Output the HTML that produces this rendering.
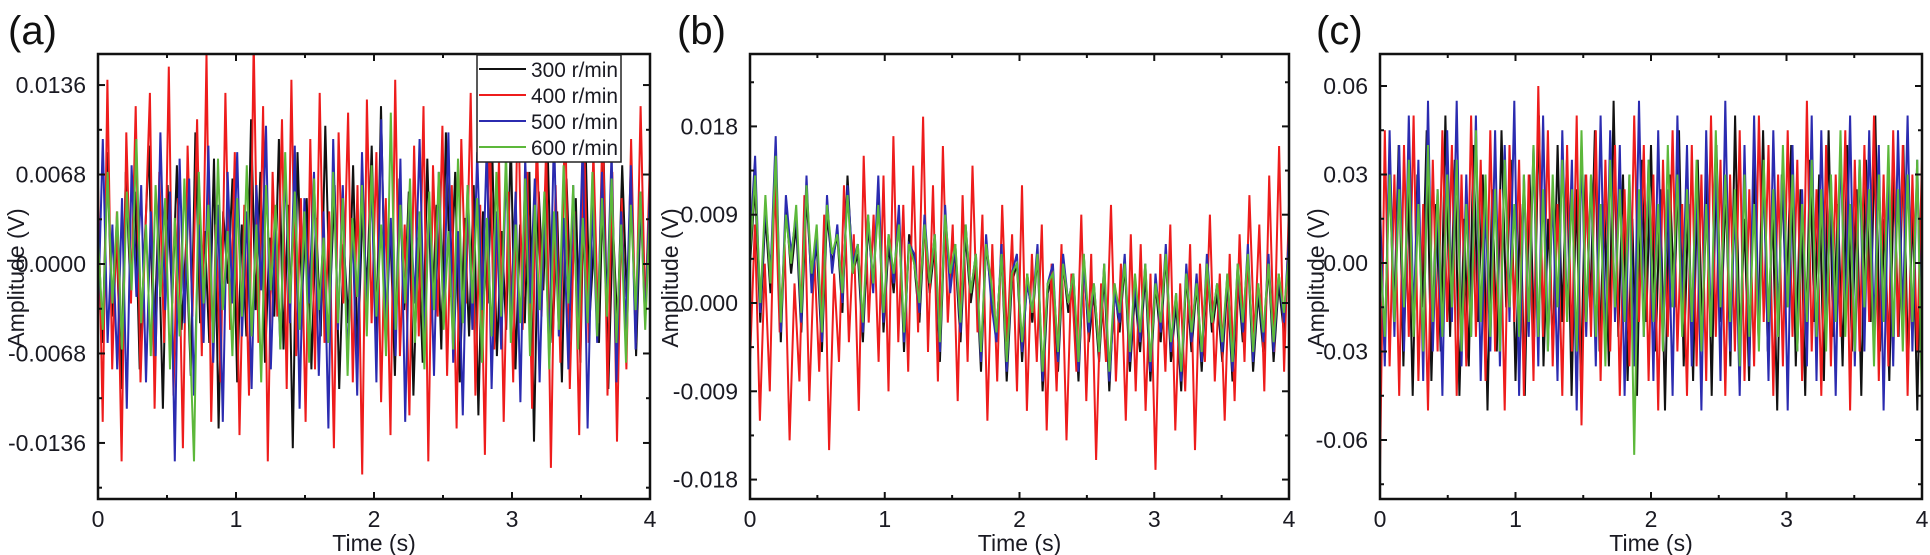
<!DOCTYPE html>
<html><head><meta charset="utf-8"><style>
html,body{margin:0;padding:0;background:#fff;}
svg{display:block;font-family:"Liberation Sans",Arial,sans-serif;}
</style></head><body>
<svg id="fig" width="1930" height="555" viewBox="0 0 1930 555" xmlns="http://www.w3.org/2000/svg"></svg>
<script>
// ---- data (panel a, units 1e-4 V) ----
const aBlack=[30,-60,85,-40,20,-95,70,-20,55,-80,10,90,-70,35,-110,60,-30,75,-50,15,-85,100,-45,25,-60,80,-125,40,-15,65,-90,30,-55,110,-35,70,-75,20,-40,95,-65,45,-140,85,-25,50,-80,35,-55,105,-30,60,-95,15,-45,75,-70,40,-20,90,-60,120,-50,30,-85,65,-35,55,-100,20,-75,80,-40,45,-65,100,-25,70,-90,35,-55,60,-115,40,-30,85,-70,25,-50,95,-80,30,-45,70,-135,55,-20,80,-60,40,-90,65,-35,50,-75,105,-40,20,-60,85,-95,30,-50,75,-25,60,-70,45,-30,55];
const aRed=[60,-120,140,-80,40,-150,100,-30,120,-90,20,130,-110,70,-60,150,-100,50,-140,90,-40,110,-70,160,-120,30,-90,130,-50,85,-130,45,-100,170,-60,120,-150,70,-40,110,-95,140,-70,50,-120,95,-80,130,-60,40,-140,100,-30,115,-90,60,-160,125,-45,85,-105,50,-130,140,-70,30,-115,90,-55,120,-150,75,-40,105,-85,60,-125,95,-30,130,-100,45,-145,110,-65,80,-120,55,-90,135,-50,70,-110,100,-40,90,-155,60,-75,120,-95,40,-130,105,-60,85,-45,115,-100,70,-135,50,-80,95,-60,120,-40,80];
const aBlue=[-40,95,-60,30,-80,50,-110,75,-25,60,-90,40,-70,100,-35,55,-150,80,-45,65,-100,30,-60,90,-75,45,-120,70,-30,85,-55,40,-95,60,-20,105,-80,35,-65,75,-45,90,-110,50,-30,70,-85,40,-125,95,-50,60,-75,30,-100,85,-40,65,-90,110,-55,35,-70,80,-120,45,-30,95,-60,50,-85,70,-40,100,-75,25,-115,60,-50,85,-35,90,-95,40,-65,75,-45,55,-105,80,-30,65,-90,45,-70,100,-55,35,-80,60,-40,95,-125,50,-60,70,-35,85,-90,40,-50,75,-65,55,-45,60];
const aGreen=[20,-50,70,-30,40,-65,55,-20,95,-45,30,-70,60,-25,50,-80,35,-55,65,-40,-150,70,-30,45,-60,80,-35,25,-70,50,-40,75,-55,30,-90,60,-20,45,-65,85,-30,55,-50,40,-75,65,-35,20,-60,70,-45,50,-85,35,-25,60,-55,75,-40,30,-70,115,-50,45,-30,65,-60,40,-80,55,-35,70,-50,25,-65,80,-45,60,-30,50,-75,35,-55,70,-40,85,-60,30,-45,65,-70,45,-35,55,-80,40,-50,75,-30,60,-65,35,-45,70,-55,50,-40,65,-60,30,-75,45,-35,55,-50,40];
// ---- panel b, units 1e-4 V ----
const bBlack=[40,120,-20,90,10,140,-40,100,30,80,-30,110,20,60,-50,90,40,70,-10,130,30,50,-40,80,20,110,-30,60,10,90,-50,70,40,-20,80,10,60,-60,90,20,50,-40,70,0,40,-70,60,10,-30,50,-80,20,40,-60,30,-20,50,-90,10,30,-70,40,-10,20,-80,50,-40,10,-60,30,-90,20,-30,40,-70,10,-50,30,-80,20,-40,50,-60,0,-90,30,-50,20,-70,40,-30,10,-60,20,-80,30,-40,50,-70,10,-50,40,-60,20,-30,60];
const bRed=[-60,80,-120,40,-90,130,-30,60,-140,20,-80,110,-100,50,-70,90,-150,30,-60,120,-40,70,-110,150,-20,90,-60,130,-90,170,-40,100,-70,140,-30,190,-50,120,-80,160,-20,80,-100,110,-60,140,-30,90,-120,60,-80,100,-40,70,-90,120,-110,50,-60,80,-130,40,-90,60,-140,30,-70,90,-100,50,-160,20,-60,100,-80,40,-120,70,-90,60,-110,30,-170,50,-70,80,-130,20,-90,60,-150,40,-60,90,-80,30,-120,50,-100,70,-60,110,-40,80,-90,130,-50,160,-70,100];
const bBlue=[60,150,-10,100,30,170,-30,110,50,90,-20,130,10,70,-40,110,30,80,0,120,40,60,-30,90,10,130,-20,70,20,100,-40,60,50,-10,90,20,70,-50,100,10,60,-30,80,10,50,-60,70,0,-40,60,-70,30,50,-50,20,-10,60,-80,20,40,-60,50,0,30,-70,40,-30,20,-50,40,-80,10,-20,50,-60,20,-40,40,-70,30,-30,60,-50,10,-80,40,-40,30,-60,50,-20,20,-50,30,-70,40,-30,60,-60,20,-40,50,-50,30,-20,70];
const bGreen=[50,130,0,110,20,150,-20,90,40,100,-10,120,30,80,-30,100,50,70,10,110,30,60,-20,90,20,100,-10,70,30,80,-30,60,40,0,80,20,70,-40,90,30,60,-20,80,10,50,-50,60,20,-30,50,-60,30,40,-40,30,-10,50,-70,20,30,-50,40,0,30,-60,50,-20,20,-50,40,-70,20,-10,40,-50,30,-30,40,-60,20,-20,50,-40,10,-70,30,-30,20,-50,40,-20,20,-40,30,-60,40,-20,50,-50,20,-30,40,-40,30,-10,50];
// ---- panel c, units 1e-3 V ----
const cBlack=[10,-30,35,-20,40,-35,25,-45,30,-15,45,-40,20,-30,50,-25,35,-45,15,-35,40,-20,30,-50,25,-30,45,-15,35,-40,20,-45,30,-25,50,-35,15,-30,40,-20,35,-45,25,-40,30,-15,45,-30,20,-35,55,-25,30,-40,15,-45,35,-20,40,-30,25,-50,30,-15,45,-35,20,-40,35,-25,30,-45,40,-20,25,-35,50,-30,15,-40,35,-25,45,-30,20,-50,30,-15,40,-35,25,-45,35,-20,30,-40,45,-25,20,-35,40,-30,25,-45,35,-20,50,-30,15,-40,30,-25,40,-35,20,-50,30];
const cRed=[-70,45,-35,30,-45,40,-25,50,-40,20,-50,35,-30,45,-20,40,-45,30,-35,50,-25,35,-40,45,-30,25,-50,40,-20,35,-45,30,-40,60,-25,45,-35,20,-45,40,-30,50,-55,30,-25,45,-40,35,-30,40,-45,25,-35,50,-20,40,-40,30,-50,35,-25,45,-30,20,-45,40,-35,30,-40,50,-25,35,-45,30,-30,45,-40,25,-35,50,-20,40,-45,30,-35,45,-25,35,-40,55,-30,25,-45,40,-35,30,-25,45,-50,35,-30,40,-20,50,-40,30,-35,45,-25,40,-45,30,-30,35];
const cBlue=[20,-35,45,-25,40,-30,50,-20,35,-40,55,-30,25,-45,45,-20,55,-35,30,-25,50,-40,20,-30,45,-35,40,-20,55,-45,30,-25,40,-35,50,-30,25,-40,45,-20,35,-50,40,-25,30,-35,50,-30,45,-20,40,-45,30,-35,55,-25,35,-40,45,-30,25,-45,50,-20,40,-35,30,-50,45,-25,35,-40,55,-30,20,-45,40,-35,50,-25,30,-40,45,-20,35,-50,40,-30,25,-35,50,-40,45,-25,30,-45,40,-20,50,-35,35,-30,45,-25,40,-50,30,-35,45,-20,50,-30,35,-40];
const cGreen=[5,-25,30,-20,25,-15,35,-25,20,-30,40,-20,25,-25,30,-15,35,-30,20,-25,45,-20,30,-25,25,-30,35,-15,20,-25,30,-20,40,-25,25,-30,30,-15,35,-20,25,-30,45,-20,30,-25,20,-35,35,-15,25,-20,30,-65,25,-25,35,-20,20,-30,40,-15,30,-25,25,-20,35,-30,20,-25,45,-15,30,-20,25,-35,30,-25,20,-30,35,-20,25,-25,40,-15,30,-30,20,-20,35,-25,25,-30,30,-20,45,-25,20,-30,35,-15,25,-35,30,-20,40,-25,25,-30,30,-20,35,-50];
const seriesNames=["300 r/min","400 r/min","500 r/min","600 r/min"];
const seriesColors=["#111111","#ee1c1c","#2b2bb0","#5cb83a"];
const aTicks=[0.0136,0.0068,0,-0.0068,-0.0136];
const aTickLabels=["0.0136","0.0068","0.0000","-0.0068","-0.0136"];
const bTicks=[0.018,0.009,0,-0.009,-0.018];
const bTickLabels=["0.018","0.009","0.000","-0.009","-0.018"];
const cTicks=[0.06,0.03,0,-0.03,-0.06];
const cTickLabels=["0.06","0.03","0.00","-0.03","-0.06"];
const xTicks=[0,1,2,3,4];
const xTickLabels=["0","1","2","3","4"];

const NS="http://www.w3.org/2000/svg";
const svg=document.getElementById('fig');
function mk(tag,attrs,parent){const e=document.createElementNS(NS,tag);for(const k in attrs)e.setAttribute(k,attrs[k]);(parent||svg).appendChild(e);return e;}

const panels=[
 {id:'a',label:'(a)',x0:98,x1:650,y0:54,y1:499,ymin:-0.01786,ymax:0.01596,unit:1e-4,data:[aBlack,aRed,aBlue,aGreen],ticks:aTicks,tl:aTickLabels,labX:8,titleX:16,legend:true},
 {id:'b',label:'(b)',x0:750,x1:1289,y0:54,y1:499,ymin:-0.01998,ymax:0.02538,unit:1e-4,data:[bBlack,bRed,bBlue,bGreen],ticks:bTicks,tl:bTickLabels,labX:677,titleX:670,legend:false},
 {id:'c',label:'(c)',x0:1380,x1:1922,y0:54,y1:499,ymin:-0.0800,ymax:0.07085,unit:1e-3,data:[cBlack,cRed,cBlue,cGreen],ticks:cTicks,tl:cTickLabels,labX:1316,titleX:1316,legend:false}
];

panels.forEach(p=>{
 const g=mk('g',{});
 
 
 const xs=v=>p.x0+(v/4)*(p.x1-p.x0);
 const ys=v=>p.y1-(v-p.ymin)/(p.ymax-p.ymin)*(p.y1-p.y0);
 const lab=mk('text',{x:p.labX,y:44,'font-size':40,fill:'#111'},g);
 lab.textContent=p.label;
 
 
 const cp=mk('clipPath',{id:'clip'+p.id},g);
 mk('rect',{x:p.x0,y:p.y0,width:p.x1-p.x0,height:p.y1-p.y0},cp);
 const sg=mk('g',{'clip-path':'url(#clip'+p.id+')'},g);
 p.data.forEach((arr,si)=>{
  const n=arr.length;
  const pts=arr.map((v,i)=>xs(4*i/(n-1)).toFixed(1)+','+ys(v*p.unit).toFixed(1)).join(' ');
  const pl=mk('polyline',{points:pts,fill:'none',stroke:seriesColors[si],'stroke-width':2,'stroke-linejoin':'miter'},sg);
  
  
 });
 const fr=mk('rect',{x:p.x0,y:p.y0,width:p.x1-p.x0,height:p.y1-p.y0,fill:'none',stroke:'#111','stroke-width':2.5},g);
 
 
 for(let k=0;k<=8;k++){
  const v=k/2,x=xs(v),L=(k%2===0)?7:4;
  mk('line',{x1:x,x2:x,y1:p.y1,y2:p.y1-L,stroke:'#111','stroke-width':2},g);
  mk('line',{x1:x,x2:x,y1:p.y0,y2:p.y0+L,stroke:'#111','stroke-width':2},g);
 }
 xTicks.forEach((v,i)=>{
  const t=mk('text',{x:xs(v),y:p.y1+28,'font-size':23,'text-anchor':'middle',fill:'#1a1a22'},g);
  t.textContent=xTickLabels[i];
  
  
 });
 const xt=mk('text',{x:(p.x0+p.x1)/2,y:p.y1+52,'font-size':23,'text-anchor':'middle',fill:'#1a1a22'},g);
 xt.textContent='Time (s)';
 
 
 const step=p.ticks[0]-p.ticks[1];
 for(let k=-6;k<=6;k++){
  const v=k*step/2; if(v<p.ymin||v>p.ymax) continue;
  const y=ys(v),L=(k%2===0)?7:4;
  mk('line',{x1:p.x0,x2:p.x0+L,y1:y,y2:y,stroke:'#111','stroke-width':2},g);
  mk('line',{x1:p.x1,x2:p.x1-L,y1:y,y2:y,stroke:'#111','stroke-width':2},g);
 }
 p.ticks.forEach((v,i)=>{
  const t=mk('text',{x:p.x0-12,y:ys(v)+8,'font-size':23,'text-anchor':'end',fill:'#1a1a22'},g);
  t.textContent=p.tl[i];
  
  
 });
 const yt=mk('text',{x:0,y:0,'font-size':23,'text-anchor':'middle',fill:'#1a1a22',transform:'translate('+(p.titleX+8)+',278) rotate(-90)'},g);
 yt.textContent='Amplitude (V)';
 
 
 if(p.legend){
  const lg=mk('g',{},g);
  
  
  mk('rect',{x:477,y:55,width:144,height:107,fill:'#fff',stroke:'#222','stroke-width':1.5},lg);
  seriesNames.forEach((nm,i)=>{
   const y=69+i*26;
   const e=mk('g',{},lg);
   
   
   mk('line',{x1:479,x2:526,y1:y,y2:y,stroke:seriesColors[i],'stroke-width':2},e);
   const t=mk('text',{x:531,y:y+8,'font-size':21,fill:'#1a1a22',textLength:87,lengthAdjust:'spacingAndGlyphs'},e);
   t.textContent=nm;
  });
 }
});
</script>
</body></html>
